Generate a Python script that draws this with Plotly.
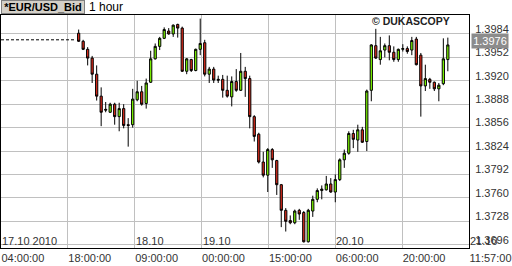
import pandas as pd
import plotly.graph_objects as go

# ---- data (EUR/USD bid, 1 hour candles) ----
first_bar = "2010-10-17 21:15"
opens = [1.3985, 1.3974, 1.3963, 1.3951, 1.3929, 1.3899, 1.3881, 1.3877, 1.3888, 1.3871,
         1.3882, 1.3860, 1.3860, 1.3894, 1.3905, 1.3889, 1.3918, 1.3950, 1.3967, 1.3978,
         1.3988, 1.3984, 1.3997, 1.3992, 1.3933, 1.3949, 1.3934, 1.3963, 1.3972, 1.3929,
         1.3936, 1.3922, 1.3922, 1.3907, 1.3898, 1.3919, 1.3907, 1.3933, 1.3923, 1.3871,
         1.3847, 1.3809, 1.3791, 1.3826, 1.3811, 1.3778, 1.3743, 1.3729, 1.3726, 1.3743,
         1.3740, 1.3700, 1.3742, 1.3758, 1.3770, 1.3771, 1.3779, 1.3768, 1.3785, 1.3812,
         1.3821, 1.3848, 1.3839, 1.3853, 1.3837, 1.3907, 1.3968, 1.3949, 1.3962, 1.3968,
         1.3959, 1.3949, 1.3963, 1.3964, 1.3962, 1.3977, 1.3955, 1.3913, 1.3922, 1.3918,
         1.3909, 1.3916, 1.3949]
highs = [1.3990, 1.3976, 1.3966, 1.3954, 1.3941, 1.3911, 1.3891, 1.3890, 1.3890, 1.3890,
         1.3888, 1.3869, 1.3909, 1.3920, 1.3913, 1.3923, 1.3961, 1.3971, 1.3980, 1.3993,
         1.3992, 1.3997, 1.3998, 1.3994, 1.3951, 1.3950, 1.3964, 1.4005, 1.3976, 1.3939,
         1.3939, 1.3927, 1.3928, 1.3927, 1.3926, 1.3936, 1.3958, 1.3939, 1.3927, 1.3873,
         1.3849, 1.3823, 1.3828, 1.3828, 1.3812, 1.3779, 1.3746, 1.3736, 1.3744, 1.3745,
         1.3742, 1.3745, 1.3763, 1.3773, 1.3777, 1.3790, 1.3787, 1.3792, 1.3814, 1.3826,
         1.3851, 1.3853, 1.3860, 1.3857, 1.3908, 1.3970, 1.3991, 1.3980, 1.3971, 1.3982,
         1.3967, 1.3964, 1.3970, 1.3967, 1.3980, 1.3980, 1.3958, 1.3942, 1.3924, 1.3919,
         1.3917, 1.3978, 1.3979]
lows = [1.3973, 1.3962, 1.3941, 1.3917, 1.3893, 1.3858, 1.3877, 1.3876, 1.3860, 1.3851,
        1.3855, 1.3830, 1.3856, 1.3892, 1.3886, 1.3882, 1.3917, 1.3949, 1.3962, 1.3977,
        1.3983, 1.3980, 1.3979, 1.3932, 1.3929, 1.3932, 1.3933, 1.3955, 1.3926, 1.3917,
        1.3917, 1.3917, 1.3897, 1.3897, 1.3885, 1.3905, 1.3906, 1.3898, 1.3855, 1.3837,
        1.3807, 1.3788, 1.3768, 1.3801, 1.3764, 1.3720, 1.3714, 1.3724, 1.3724, 1.3730,
        1.3699, 1.3699, 1.3734, 1.3754, 1.3758, 1.3770, 1.3767, 1.3754, 1.3783, 1.3801,
        1.3819, 1.3828, 1.3823, 1.3835, 1.3824, 1.3892, 1.3950, 1.3942, 1.3952, 1.3948,
        1.3946, 1.3946, 1.3960, 1.3957, 1.3955, 1.3941, 1.3871, 1.3906, 1.3909, 1.3906,
        1.3892, 1.3914, 1.3933]
closes = [1.3974, 1.3963, 1.3951, 1.3929, 1.3899, 1.3877, 1.3880, 1.3888, 1.3871, 1.3882,
          1.3859, 1.3859, 1.3895, 1.3905, 1.3888, 1.3917, 1.3950, 1.3967, 1.3978, 1.3990,
          1.3984, 1.3996, 1.3992, 1.3933, 1.3950, 1.3934, 1.3963, 1.3971, 1.3929, 1.3936,
          1.3921, 1.3921, 1.3907, 1.3899, 1.3919, 1.3907, 1.3933, 1.3923, 1.3871, 1.3844,
          1.3809, 1.3791, 1.3826, 1.3812, 1.3778, 1.3743, 1.3728, 1.3726, 1.3742, 1.3738,
          1.3700, 1.3743, 1.3758, 1.3770, 1.3772, 1.3779, 1.3768, 1.3785, 1.3812, 1.3821,
          1.3848, 1.3840, 1.3853, 1.3836, 1.3906, 1.3969, 1.3951, 1.3961, 1.3968, 1.3959,
          1.3949, 1.3963, 1.3964, 1.3960, 1.3975, 1.3942, 1.3913, 1.3923, 1.3918, 1.3909,
          1.3914, 1.3950, 1.3969]
prev_close = 1.3976
current_bid = 1.3976

y_ticks = [1.3696, 1.3728, 1.3760, 1.3792, 1.3824, 1.3856, 1.3888, 1.3920, 1.3952, 1.3984]
x_start = "2010-10-17 04:00"
x_end = "2010-10-21 11:57"
time_labels = ["04:00:00", "18:00:00", "09:00:00", "00:00:00", "15:00:00",
               "06:00:00", "20:00:00", "11:57:00"]
date_labels = {0: "17.10 2010", 2: "18.10", 3: "19.10", 5: "20.10", 7: "21.10"}
title_symbol = "*EUR/USD_Bid"
title_period = "1 hour"
watermark = "© DUKASCOPY"

times = pd.date_range(first_bar, periods=len(opens), freq="h")
tick_pos = pd.date_range(x_start, x_end, periods=len(time_labels))

FONT = "Liberation Sans, Arial, sans-serif"
TXT = "#333333"
GRID = "#c0c0c0"

fig = go.Figure()
fig.add_trace(go.Scatter(
    x=[pd.Timestamp(x_start), times[0] - pd.Timedelta(minutes=45)],
    y=[prev_close, prev_close], mode="lines",
    line=dict(color="black", width=1, dash="3px,2px"),
    hoverinfo="skip", showlegend=False))
fig.add_trace(go.Candlestick(
    x=times, open=opens, high=highs, low=lows, close=closes,
    increasing=dict(line=dict(color="black", width=1), fillcolor="#80ff00"),
    decreasing=dict(line=dict(color="black", width=1), fillcolor="#dd2c1c"),
    whiskerwidth=0, showlegend=False))

fig.update_layout(
    width=512, height=266,
    margin=dict(l=0, r=40, t=15, b=18),
    paper_bgcolor="white", plot_bgcolor="white",
    font=dict(family=FONT, size=11, color=TXT),
    showlegend=False,
    xaxis=dict(type="date", range=[x_start, x_end], rangeslider=dict(visible=False),
               tickvals=list(tick_pos), ticktext=time_labels,
               ticklabelposition="outside right", ticklabeloverflow="allow",
               showgrid=True, gridcolor=GRID, gridwidth=1,
               showline=True, mirror=True, linecolor="black", linewidth=1,
               ticks="", tickfont=dict(size=11, color=TXT), zeroline=False),
    yaxis=dict(side="right", range=[1.36915, 1.40099],
               tickvals=y_ticks, ticktext=[f"{v:.4f}" for v in y_ticks],
               ticklabelshift=-5, ticklabelstandoff=3, ticklabeloverflow="allow",
               showgrid=True, gridcolor=GRID, gridwidth=1,
               showline=True, mirror=True, linecolor="black", linewidth=1,
               ticks="", tickfont=dict(size=11, color=TXT), zeroline=False),
)

anns = []
for i, txt in date_labels.items():
    anns.append(dict(x=tick_pos[i], y=y_ticks[0], xref="x", yref="y", text=txt,
                     showarrow=False, xanchor="left", yanchor="bottom", yshift=-4,
                     xshift=-1, font=dict(size=11, color=TXT, family=FONT)))
# current price box
anns.append(dict(x=1, y=current_bid, xref="paper", yref="y", text=f"{current_bid:.4f}",
                 showarrow=False, xanchor="left", yanchor="middle", xshift=2, yshift=-1,
                 bgcolor="#8c8c8c", borderpad=1, width=34,
                 font=dict(size=11, color="white", family=FONT)))
# watermark
anns.append(dict(x=413 / 472, y=(248 - 21) / 233, xref="paper", yref="paper", text=watermark,
                 showarrow=False, xanchor="center", yanchor="middle",
                 font=dict(size=10.5, color="#222222", family=FONT, weight="bold")))
# title
anns.append(dict(x=0, y=(248 - 0) / 233, xref="paper", yref="paper", text=title_symbol,
                 showarrow=False, xanchor="left", yanchor="top", width=82, height=12,
                 bgcolor="#d4d0c8", bordercolor="#808080", borderwidth=1, borderpad=0,
                 font=dict(size=11, color="black", family=FONT, weight="bold")))
anns.append(dict(x=87 / 472, y=(248 - 7) / 233, xref="paper", yref="paper", text=title_period,
                 showarrow=False, xanchor="left", yanchor="middle",
                 font=dict(size=12, color="black", family=FONT)))
fig.update_layout(annotations=anns)

fig.write_html("out.html")
